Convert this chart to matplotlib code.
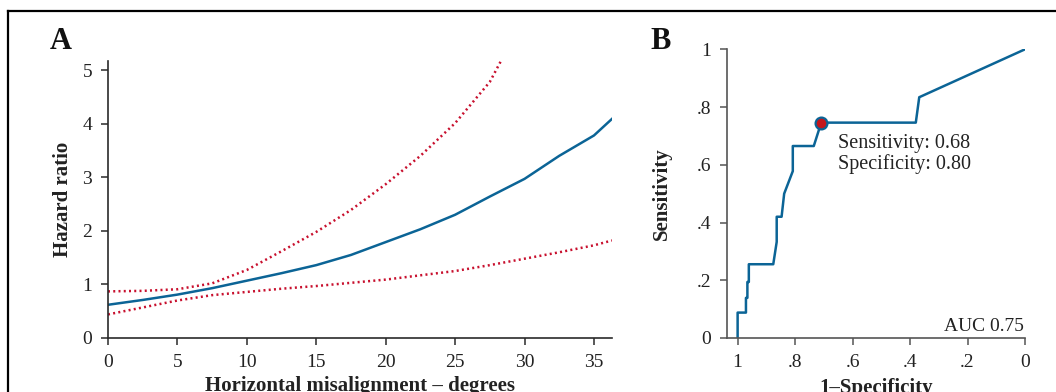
import matplotlib
matplotlib.use("Agg")
import matplotlib.pyplot as plt
from matplotlib.lines import Line2D

plt.rcParams['font.family'] = ['Liberation Serif', 'DejaVu Serif']

# ---- Panel A data ----
hr_x = [0, 2.5, 5, 7.5, 10, 12.5, 15, 17.5, 20, 22.5, 25, 27.5, 30, 32.5, 35, 36.3]
hr_mid = [0.62, 0.71, 0.81, 0.93, 1.07, 1.21, 1.36, 1.55, 1.79, 2.03, 2.30, 2.64, 2.97, 3.40, 3.78, 4.09]
up_x = [0, 2.5, 5, 7.5, 10, 12.5, 15, 17.5, 20, 22.5, 25, 27.5, 28.3]
hr_upper = [0.87, 0.88, 0.91, 1.02, 1.27, 1.62, 1.98, 2.39, 2.87, 3.40, 4.01, 4.78, 5.17]
hr_lower = [0.44, 0.57, 0.70, 0.80, 0.86, 0.92, 0.97, 1.03, 1.09, 1.17, 1.25, 1.36, 1.48, 1.60, 1.73, 1.82]
a_xticks = [0, 5, 10, 15, 20, 25, 30, 35]
a_yticks = [0, 1, 2, 3, 4, 5]

# ---- Panel B data ----
roc_x = [1.0, 1.0, 0.971, 0.971, 0.966, 0.966, 0.961, 0.961, 0.876, 0.864, 0.864,
         0.847, 0.838, 0.808, 0.808, 0.735, 0.709, 0.380, 0.368, 0.0]
roc_y = [0.0, 0.088, 0.088, 0.139, 0.139, 0.194, 0.194, 0.2555, 0.2555, 0.333, 0.42,
         0.42, 0.50, 0.578, 0.665, 0.665, 0.746, 0.746, 0.834, 1.0]
cut_x = [0.709]
cut_y = [0.746]
b_ticks = [1, 0.8, 0.6, 0.4, 0.2, 0]
b_ticklabels = ["1", ".8", ".6", ".4", ".2", "0"]
b_yticklabels = ["0", ".2", ".4", ".6", ".8", "1"]

BLUE = "#0b6496"
RED = "#c8102e"
TXT = "#222222"

fig = plt.figure(figsize=(10.56, 3.92), dpi=100)

# frame
fig.add_artist(Line2D([8/1056, 8/1056], [0, 1 - 11/392], transform=fig.transFigure, color="black", lw=1.6))
fig.add_artist(Line2D([8/1056, 1], [1 - 11/392, 1 - 11/392], transform=fig.transFigure, color="black", lw=1.6))

# Panel A
axA = fig.add_axes([108/1056, 1 - 338/392, 504/1056, 277/392])
axA.plot(hr_x, hr_mid, color=BLUE, lw=1.8)
axA.plot(up_x, hr_upper, color=RED, lw=1.8, linestyle=(0, (0.8, 1.3)))
axA.plot(hr_x, hr_lower, color=RED, lw=1.8, linestyle=(0, (0.8, 1.3)))
axA.set_xlim(0, 36.3)
axA.set_ylim(0, 5.17)
axA.set_xticks(a_xticks)
axA.set_yticks(a_yticks)
for s in ["top", "right"]:
    axA.spines[s].set_visible(False)
for s in ["left", "bottom"]:
    axA.spines[s].set_color("#2a2a2a")
    axA.spines[s].set_linewidth(1.2)
axA.tick_params(axis="both", colors="#2a2a2a", labelcolor=TXT, labelsize=14, length=5, width=1.1)
axA.tick_params(axis="x", pad=6.5)
axA.tick_params(axis="y", pad=6.5)
axA.set_ylabel("Hazard ratio", fontsize=15, fontweight="bold", color=TXT)
axA.yaxis.set_label_coords(-0.070, 0.5)
axA.set_xlabel("Horizontal misalignment – degrees", fontsize=15, fontweight="bold", color=TXT)
axA.xaxis.set_label_coords(0.5, -0.138)
axA.xaxis.label.set_va("top")
fig.text(50/1056, 1 - 49/392, "A", fontsize=22, fontweight="bold", color="#111111")

# Panel B
axB = fig.add_axes([726.7/1056, 1 - 338/392, 298.3/1056, 288.7/392])
axB.plot(roc_x, roc_y, color=BLUE, lw=1.8)
axB.plot(cut_x, cut_y, marker="o", markersize=8.5, markerfacecolor="#c4161c",
         markeredgecolor=BLUE, markeredgewidth=1.6, linestyle="none")
axB.set_xlim(1.038, 0)
axB.set_ylim(0, 1)
axB.set_xticks(b_ticks)
axB.set_xticklabels(b_ticklabels)
axB.set_yticks(b_ticks[::-1])
axB.set_yticklabels(b_yticklabels)
for s in ["top", "right"]:
    axB.spines[s].set_visible(False)
for s in ["left", "bottom"]:
    axB.spines[s].set_color("#555555")
    axB.spines[s].set_linewidth(1.2)
axB.tick_params(axis="both", colors="#555555", labelcolor=TXT, labelsize=14, length=5, width=1.1)
axB.tick_params(axis="x", pad=6.5)
axB.tick_params(axis="y", pad=6)
axB.set_ylabel("Sensitivity", fontsize=15, fontweight="bold", color=TXT)
axB.yaxis.set_label_coords(-0.183, 0.5)
axB.set_xlabel("1–Specificity", fontsize=15, fontweight="bold", color=TXT)
axB.xaxis.set_label_coords(0.5, -0.14)
axB.xaxis.label.set_va("top")
axB.text(0.651, 0.568, "Sensitivity: 0.68\nSpecificity: 0.80", fontsize=14.5,
         color=TXT, ha="left", va="bottom", linespacing=1.1)
axB.text(0.003, 0.01, "AUC 0.75", fontsize=14, color=TXT, ha="right", va="bottom")
fig.text(650/1056, 1 - 49/392, "B", fontsize=22, fontweight="bold", color="#111111")

fig.savefig("out.png", dpi=100)
